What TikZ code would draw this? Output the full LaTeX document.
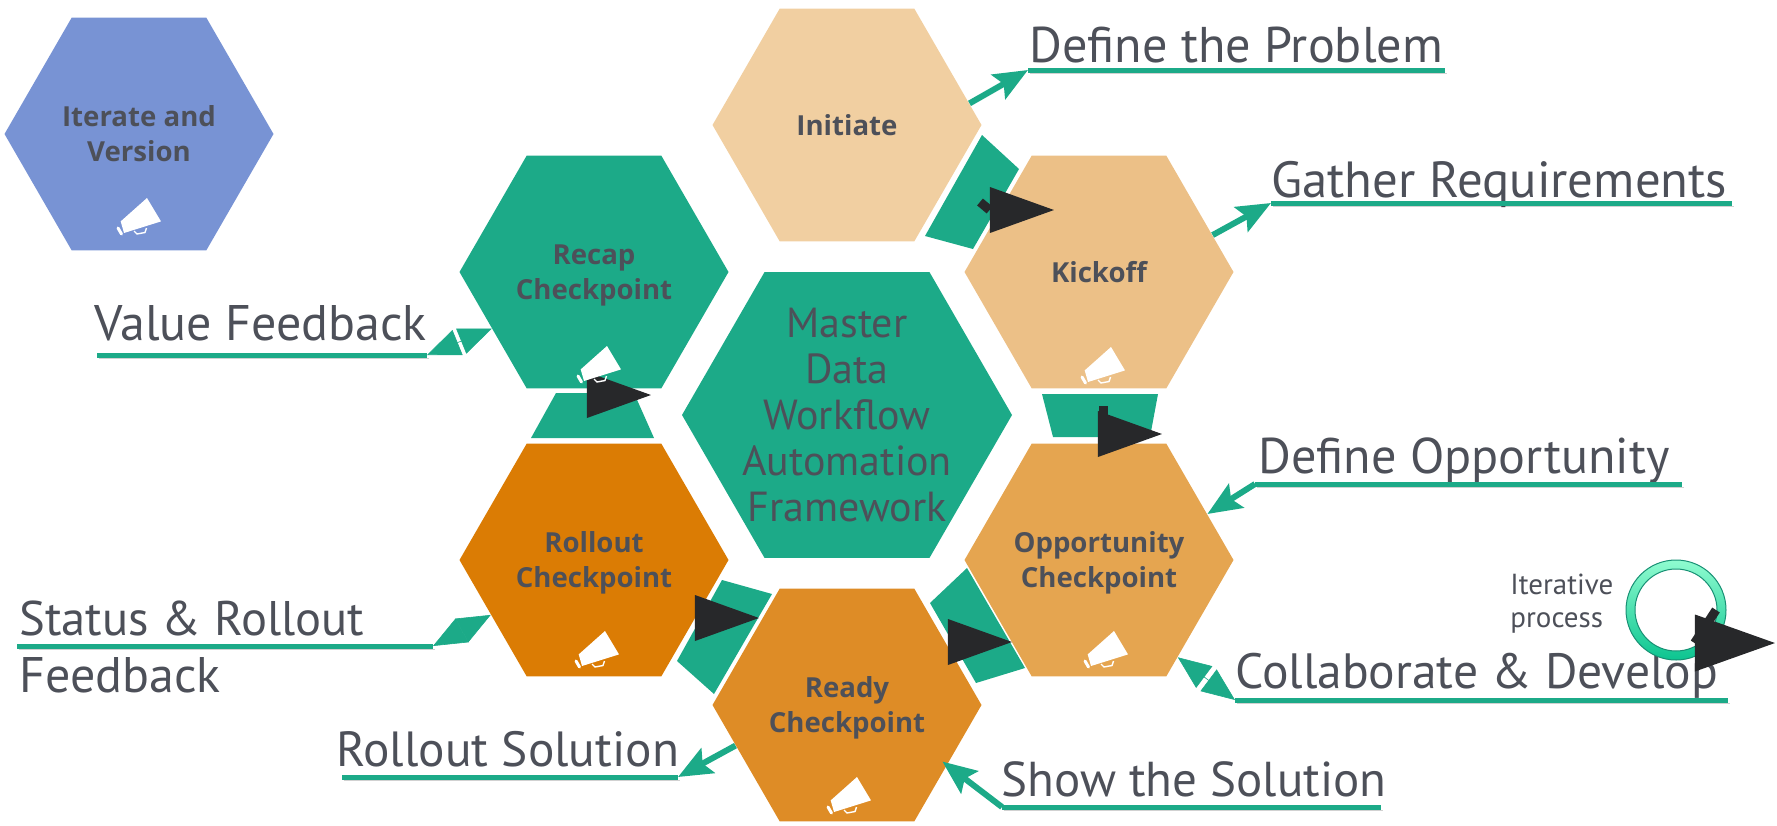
\documentclass[tikz,border=0pt]{standalone}
\usepackage{fontspec}
\setmainfont{PT Sans}
\newfontfamily\hexfont{Open Sans}
\usetikzlibrary{positioning, arrows.meta, calc, shapes.geometric}
\definecolor{tealbox}{HTML}{1CAA88}
\definecolor{inktext}{HTML}{4D5059}
\definecolor{inkblack}{HTML}{27282A}
\definecolor{iterblue}{HTML}{7893D4}
\definecolor{initsand}{HTML}{F1CFA1}
\definecolor{kicksand}{HTML}{ECC087}
\definecolor{oppsand}{HTML}{E5A550}
\definecolor{readysand}{HTML}{DE8C26}
\definecolor{rollsand}{HTML}{DB7C04}
\definecolor{ringtop}{HTML}{8FFCD0}
\definecolor{ringlow}{HTML}{0CC490}

\begin{document}
\begin{tikzpicture}[x=0.5pt,y=-0.5pt,node distance=145pt,on grid,
        hexbox/.style={regular polygon,regular polygon sides=6,minimum size=134.5pt,inner sep=-15pt,
            text=inktext,align=center,font=\hexfont\bfseries\fontsize{13.8}{17.5}\selectfont},
        caption/.style={anchor=base west,inner sep=0pt,text=inktext,font=\fontsize{#1}{25}\selectfont},
        caption/.default=25,
        underline/.style={draw=tealbox,line width=2.5pt,
            preaction={draw=black,opacity=.18,transform canvas={shift={(.8pt,-1.6pt)}}}},
        thinarrow/.style={draw=tealbox,line width=3pt,-{Stealth[length=17pt,width=14pt,inset=3pt]}},
        halfarrow/.style={draw=tealbox,line width=.3pt,fill=tealbox,-{Triangle[length=16.5pt,width=13.5pt]}},
        flowbox/.style={fill=tealbox},
        blacktip/.style={isosceles triangle,isosceles triangle stretches,minimum width=23pt,minimum height=32pt,
            inner sep=0pt,fill=inkblack,anchor=apex},
        stub/.style={draw=inkblack,line width=4.5pt},
        horn/.pic={
            \fill[white] (-26.3,23.4) -- (0,0) -- (14,23.4) -- (-23,35) -- cycle;
            \draw[white,line width=1.5pt,line cap=round] (-29,30) -- (-25.5,36);
            \draw[white,line width=.7pt] (-13,33) -- (-10,36) -- (-2,34.5) -- (-.5,30);
        }]
        \useasboundingbox (0,0) rectangle (1777,825);

        \node[hexbox,minimum size=165pt,fill=tealbox,
            label={[text=inktext,align=center,font=\fontsize{21}{23.1}\selectfont]center:Master\\Data\\Workflow\\Automation\\Framework}] (master) at (847,415) {};
        \node[hexbox,fill=initsand] (init) [above=of master] {Initiate};
        \node[hexbox,fill=readysand] (ready) [below=of master] {Ready\\\smash{Checkpoint}};
        \node[hexbox,fill=kicksand] (kick) [above right=71.5pt and 126pt of master] {Kickoff};
        \node[hexbox,fill=oppsand] (opp) [below right=72.5pt and 126pt of master] {Opportunity\\\smash{Checkpoint}};
        \node[hexbox,fill=rollsand] (roll) [below left=72.5pt and 126.5pt of master] {Rollout\\\smash{Checkpoint}};
        \node[hexbox,fill=tealbox] (recap) [above left=71.5pt and 126.5pt of master] {Recap\\\smash{Checkpoint}};
        \node[hexbox,fill=iterblue] (iter) at (139,134) {Iterate and\\Version};

        \fill[flowbox] (982,135) -- (1019,169) -- (973,249) -- (925,236) -- cycle;
        \fill[flowbox] (1042,394) -- (1158,394) -- (1150,437) -- (1053,437) -- cycle;
        \fill[flowbox] (556,393) -- (634,393) -- (654,438) -- (531,438) -- cycle;
        \fill[flowbox] (722,580) -- (772,594) -- (714,694) -- (677,661) -- cycle;
        \fill[flowbox] (967,568) -- (1025,668) -- (976,683) -- (930,603) -- cycle;

        \node[caption=25.1] (problem) at (1029,62) {Define the Problem};
        \node[caption=25.4] (require) at (1271,197) {Gather Requirements};
        \node[caption=25.1] (define) at (1258,473) {Define Opportunity};
        \node[caption=24.8] (collab) at (1235,688) {Collaborate \& Develop};
        \node[caption=24.5] (show) at (1001,796) {Show the Solution};
        \node[caption=24.7] (rollsol) at (336,766) {Rollout Solution};
        \node[caption=24.3] (status) at (19,635) {Status \& Rollout};
        \node[caption] (feedback) at (19,692) {Feedback};
        \node[caption] (value) at (94,340) {Value Feedback};

        \coordinate (problema) at (1028,70);
        \coordinate (problemb) at (1445,70);
        \coordinate (requirea) at (1271,203);
        \coordinate (requireb) at (1732,203);
        \coordinate (definea) at (1255,484);
        \coordinate (defineb) at (1682,484);
        \coordinate (collaba) at (1235,700);
        \coordinate (collabb) at (1728,700);
        \coordinate (showa) at (1002,807);
        \coordinate (showb) at (1381,807);
        \coordinate (rollsola) at (342,777);
        \coordinate (rollsolb) at (678,777);
        \coordinate (statusa) at (17,646);
        \coordinate (statusb) at (433,646);
        \coordinate (valuea) at (97,355);
        \coordinate (valueb) at (427,355);

        \path
        (problema) edge [underline] (problemb)
        (requirea) edge [underline] (requireb)
        (definea) edge [underline] (defineb)
        (collaba) edge [underline] (collabb)
        (showa) edge [underline] (showb)
        (rollsola) edge [underline] (rollsolb)
        (statusa) edge [underline] (statusb)
        (valuea) edge [underline] (valueb)
        ;

        \path
        (init.10) edge [thinarrow] (problema)
        (kick.18) edge [thinarrow] (requirea)
        (definea) edge [thinarrow] (opp.23)
        (showa) edge [thinarrow,shorten >=-3pt] (ready.-31)
        (ready.200) edge [thinarrow] (rollsolb)
        ;

        \coordinate (collabm) at ($(opp.-51)!.5!(collaba)$);
        \coordinate (valuem) at ($(recap.209)!.5!(valueb)$);
        \coordinate (statusm) at ($(roll.208)!.5!(statusb)$);
        \path
        (collabm) edge [halfarrow] (opp.-51)
        (collabm) edge [halfarrow] (collaba)
        (valuem) edge [halfarrow] (recap.209)
        (valuem) edge [halfarrow] (valueb)
        (statusm) edge [halfarrow] (roll.208)
        (statusm) edge [halfarrow] (statusb)
        ;

        \node[blacktip] (kicktip) at (1055,210) {};
        \node[blacktip] (opptip) at (1163,434) {};
        \node[blacktip] (rolltip) at (652,395) {};
        \node[blacktip] (readytip) at (760,618) {};
        \node[blacktip] (backtip) at (1013,642) {};
        \coordinate (kickstub) at (980,202);
        \coordinate (oppstub) at (1103,406);
        \path
        (kickstub) edge [stub] (kicktip.west)
        (oppstub) edge [stub] (oppstub |- opptip)
        ;

        \path[draw=tealbox!85!black,line width=.5pt,top color=ringtop,bottom color=ringlow,even odd rule]
        (1676,610) ellipse (50 and 50) (1676,610) ellipse (41 and 41);
        \node[anchor=base west,inner sep=0pt,text=inktext,align=left,font=\fontsize{14.5}{16.5}\selectfont] (iterative) at (1510,627) {Iterative\\process};
        \node[blacktip,minimum width=28.5pt,minimum height=40pt] (looptip) at (1776,643) {};
        \coordinate (loopstub) at (1716,610);
        \path (loopstub) edge [stub] (looptip.west);

        \pic at (147,198) {horn};
        \pic at (607,346) {horn};
        \pic at (1111,347) {horn};
        \pic at (1114,631) {horn};
        \pic at (605,631) {horn};
        \pic at (857,777) {horn};
    \end{tikzpicture}
\end{document}
